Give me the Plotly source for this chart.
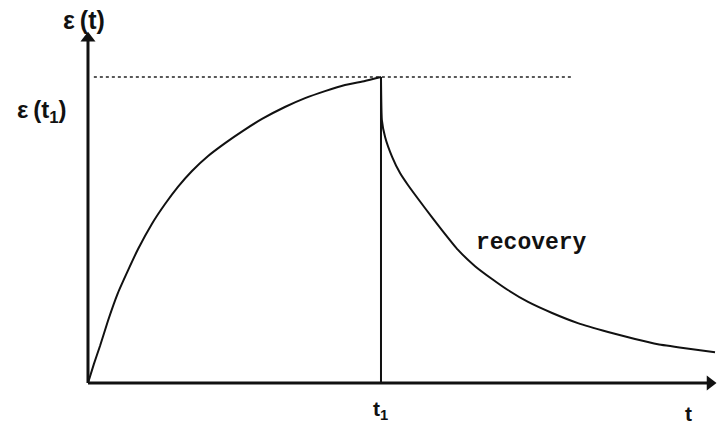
import plotly.graph_objects as go

# Creep phase: strain rising under constant load until t1
creep_t = [0.0, 0.020, 0.041, 0.068, 0.102, 0.137, 0.171, 0.218, 0.263, 0.307, 0.355,
           0.410, 0.468, 0.529, 0.594, 0.672, 0.741, 0.809, 0.877, 0.945, 1.0]
creep_eps = [0.0, 0.062, 0.121, 0.203, 0.294, 0.369, 0.438, 0.520, 0.585, 0.641, 0.693,
             0.742, 0.784, 0.824, 0.863, 0.902, 0.931, 0.954, 0.974, 0.987, 1.0]

# Recovery phase: instantaneous elastic drop, then delayed recovery
recovery_t = [1.003, 1.014, 1.038, 1.065, 1.092, 1.150, 1.208, 1.263, 1.321, 1.379,
              1.433, 1.502, 1.584, 1.672, 1.775, 1.867, 1.945, 2.038, 2.140]
recovery_eps = [0.859, 0.804, 0.739, 0.686, 0.647, 0.572, 0.500, 0.435, 0.382, 0.340,
                0.304, 0.265, 0.229, 0.196, 0.167, 0.144, 0.127, 0.114, 0.101]

t1 = 1.0
eps_t1 = 1.0
guide_end_t = 1.652

x_range = [-0.3003, 2.1468]
y_range = [-0.137, 1.2516]
t_axis_tip = 2.123
eps_axis_tip = 1.127

ink = "#111111"
fig = go.Figure()

# axes with arrowheads
fig.add_trace(go.Scatter(x=[0, 0], y=[0, eps_axis_tip], mode="lines",
                         line=dict(color=ink, width=3), hoverinfo="skip"))
fig.add_trace(go.Scatter(x=[0, t_axis_tip], y=[0, 0], mode="lines",
                         line=dict(color=ink, width=3), hoverinfo="skip"))
fig.add_trace(go.Scatter(x=[0], y=[eps_axis_tip], mode="markers",
                         marker=dict(symbol="triangle-up", size=13, color=ink), hoverinfo="skip"))
fig.add_trace(go.Scatter(x=[t_axis_tip], y=[0], mode="markers",
                         marker=dict(symbol="triangle-right", size=13, color=ink), hoverinfo="skip"))

# dotted guide at eps(t1)
fig.add_trace(go.Scatter(x=[0.02, guide_end_t], y=[eps_t1, eps_t1], mode="lines",
                         line=dict(color="#222222", width=1.5, dash="dot"), hoverinfo="skip"))
# vertical line at t1
fig.add_trace(go.Scatter(x=[t1, t1], y=[0, eps_t1], mode="lines",
                         line=dict(color=ink, width=2), hoverinfo="skip"))
# creep curve
fig.add_trace(go.Scatter(x=creep_t, y=creep_eps, mode="lines",
                         line=dict(color=ink, width=2, shape="spline", smoothing=0.4), hoverinfo="skip"))
# elastic drop + recovery curve
fig.add_trace(go.Scatter(x=[t1] + recovery_t, y=[eps_t1] + recovery_eps, mode="lines",
                         line=dict(color=ink, width=2, shape="spline", smoothing=0.4), hoverinfo="skip"))

ts = "\u2009"
fig.add_annotation(x=-0.012, y=1.186, text=f"<b>ε{ts}(t)</b>", showarrow=False,
                   font=dict(family="Liberation Sans", size=25, color=ink))
fig.add_annotation(x=-0.157, y=0.886, text=f"<b>ε{ts}(t<sub>1</sub>)</b>", showarrow=False,
                   font=dict(family="Liberation Sans", size=24, color=ink))
fig.add_annotation(x=t1, y=-0.088, text="<b>t<sub>1</sub></b>", showarrow=False,
                   font=dict(family="Liberation Sans", size=21, color=ink))
fig.add_annotation(x=2.048, y=-0.098, text="<b>t</b>", showarrow=False,
                   font=dict(family="Liberation Sans", size=21, color=ink))
fig.add_annotation(x=1.512, y=0.458, text="<b>recovery</b>", showarrow=False,
                   font=dict(family="Liberation Mono", size=23, color=ink))

fig.update_layout(
    width=717, height=425, margin=dict(l=0, r=0, t=0, b=0),
    paper_bgcolor="white", plot_bgcolor="white", showlegend=False,
    xaxis=dict(range=x_range, visible=False, fixedrange=True),
    yaxis=dict(range=y_range, visible=False, fixedrange=True),
)

fig.write_html("out.html")
